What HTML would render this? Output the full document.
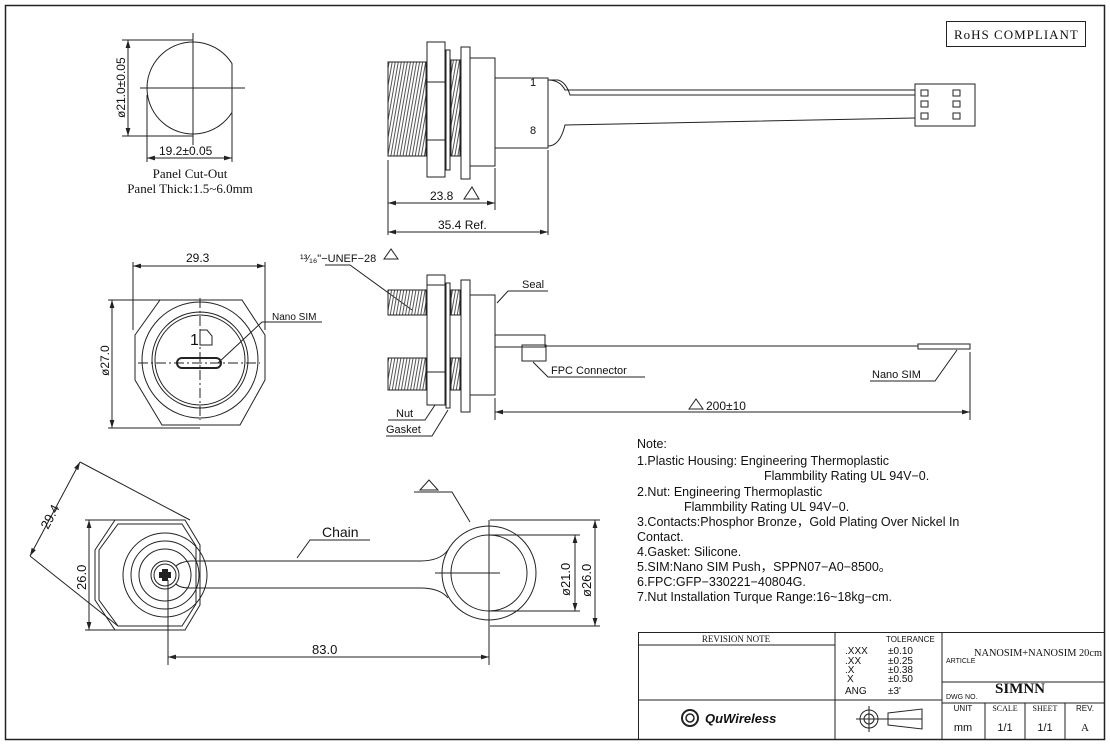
<!DOCTYPE html>
<html><head><meta charset="utf-8"><style>
html,body{margin:0;padding:0;background:#fff}
svg{display:block}
text{font-family:"Liberation Sans",sans-serif;fill:#111}
.s{font-family:"Liberation Serif",serif}
</style></head><body>
<svg width="1110" height="745" viewBox="0 0 1110 745" xmlns="http://www.w3.org/2000/svg" stroke="#222" fill="none" stroke-width="1">
<defs>
<marker id="a" viewBox="0 0 10 6" refX="10" refY="3" markerWidth="8" markerHeight="5" orient="auto-start-reverse"><path d="M0,0L10,3L0,6z" fill="#222" stroke="none"/></marker>
<pattern id="th" width="3" height="6" patternUnits="userSpaceOnUse" patternTransform="rotate(10)"><line x1="1" y1="0" x2="1" y2="6" stroke="#555" stroke-width="1"/></pattern>
</defs>
<rect x="5.5" y="5.5" width="1099" height="734" stroke-width="1.5"/>
<!-- RoHS -->
<rect x="946.5" y="21.5" width="139" height="25"/>
<text x="954" y="39" class="s" font-size="13" stroke="none" letter-spacing="1">RoHS COMPLIANT</text>

<!-- Panel cut-out -->
<path d="M232,63.6 A46,46 0 1,0 232,112.4 Z"/>
<line x1="140" y1="88" x2="245" y2="88"/><line x1="193" y1="33" x2="193" y2="145"/>
<line x1="128" y1="40" x2="128" y2="136" marker-start="url(#a)" marker-end="url(#a)"/>
<line x1="122" y1="40" x2="193" y2="40"/><line x1="122" y1="136" x2="193" y2="136"/>
<text transform="translate(125,118) rotate(-90)" font-size="12" stroke="none">ø21.0±0.05</text>
<line x1="147" y1="95" x2="147" y2="162"/><line x1="232" y1="113" x2="232" y2="162"/>
<line x1="147" y1="158" x2="232" y2="158" marker-start="url(#a)" marker-end="url(#a)"/>
<text x="159" y="155" font-size="12" stroke="none">19.2±0.05</text>
<text x="190" y="178" class="s" font-size="13" text-anchor="middle" stroke="none">Panel Cut-Out</text>
<text x="190" y="193" class="s" font-size="13" text-anchor="middle" stroke="none">Panel Thick:1.5~6.0mm</text>

<!-- Top side view -->
<rect x="388" y="62" width="38" height="94" fill="url(#th)"/>
<rect x="427" y="42" width="18" height="135"/>
<line x1="427" y1="82" x2="445" y2="82"/><line x1="427" y1="140" x2="445" y2="140"/>
<rect x="446" y="50" width="4" height="120"/>
<rect x="451" y="60" width="9" height="96" fill="url(#th)"/>
<rect x="461" y="47" width="9" height="132"/>
<rect x="470" y="58" width="25" height="108"/>
<rect x="495" y="78" width="53" height="70"/>
<text x="530" y="86" font-size="11" stroke="none">1</text>
<text x="530" y="134" font-size="11" stroke="none">8</text>
<path d="M548,80 Q560,80 565,90 L915,90 M548,146 Q560,146 565,125 L915,118"/>
<path d="M548,80 L558,80 Q566,82 570,95 L915,95"/>
<rect x="915" y="84" width="60" height="42"/>
<rect x="921" y="90" width="7" height="6"/><rect x="921" y="101" width="7" height="6"/><rect x="921" y="113" width="7" height="6"/>
<rect x="953" y="90" width="7" height="6"/><rect x="953" y="101" width="7" height="6"/><rect x="953" y="113" width="7" height="6"/>
<line x1="388" y1="160" x2="388" y2="235"/><line x1="495" y1="168" x2="495" y2="210"/><line x1="548" y1="150" x2="548" y2="235"/>
<line x1="388" y1="203" x2="495" y2="203" marker-start="url(#a)" marker-end="url(#a)"/>
<text x="430" y="200" font-size="12" stroke="none">23.8</text><path d="M464,199 L472,187 L479,199Z"/>
<line x1="388" y1="232" x2="548" y2="232" marker-start="url(#a)" marker-end="url(#a)"/>
<text x="438" y="229" font-size="12" stroke="none">35.4  Ref.</text>

<!-- Front view -->
<path d="M160,300 L242,300 L265,335 L265,380 L240,425 L162,425 L135,380 L135,335 Z"/>
<circle cx="200" cy="360" r="58"/>
<circle cx="200" cy="360" r="48"/><circle cx="200" cy="360" r="45"/>
<line x1="133" y1="262" x2="133" y2="330"/><line x1="265" y1="262" x2="265" y2="330"/>
<line x1="133" y1="266" x2="265" y2="266" marker-start="url(#a)" marker-end="url(#a)"/>
<text x="186" y="262" font-size="12" stroke="none">29.3</text>
<line x1="112" y1="300" x2="112" y2="428" marker-start="url(#a)" marker-end="url(#a)"/>
<line x1="108" y1="300" x2="165" y2="300"/><line x1="108" y1="428" x2="200" y2="428"/>
<text transform="translate(109,376) rotate(-90)" font-size="12" stroke="none">ø27.0</text>
<line x1="138" y1="363" x2="260" y2="363" stroke-dasharray="10,3,2,3"/>
<line x1="200" y1="298" x2="200" y2="420" stroke-dasharray="10,3,2,3"/>
<rect x="177" y="358" width="44" height="10" rx="5" stroke-width="2"/>
<text x="190" y="345" font-size="16" stroke="none">1</text><path d="M200,330 L207,330 L212,336 L212,345 L200,345Z"/>
<path d="M218,363 L262,322 L322,322"/>
<text x="272" y="320" font-size="10" stroke="none">Nano  SIM</text>

<!-- Middle side view -->
<text x="300" y="262" font-size="11" stroke="none">¹³⁄₁₆"−UNEF−28</text>
<path d="M384,259 L391,249 L398,259Z"/>
<path d="M325,265 L350,265 L412,310"/>
<rect x="388" y="290" width="38" height="25" fill="url(#th)"/>
<rect x="388" y="358" width="38" height="32" fill="url(#th)"/>
<rect x="427" y="275" width="18" height="130"/>
<line x1="427" y1="285" x2="445" y2="285"/><line x1="427" y1="372" x2="445" y2="372"/>
<rect x="446" y="283" width="4" height="125"/>
<rect x="451" y="290" width="9" height="25" fill="url(#th)"/><rect x="451" y="358" width="9" height="32" fill="url(#th)"/>
<rect x="461" y="280" width="9" height="132"/>
<rect x="470" y="295" width="25" height="100"/>
<rect x="495" y="335" width="50" height="12"/>
<rect x="522" y="345" width="24" height="16"/>
<line x1="546" y1="346" x2="918" y2="346"/>
<rect x="918" y="344" width="52" height="5"/>
<path d="M497,303 L508,291 L548,291"/><text x="522" y="288" font-size="11" stroke="none">Seal</text>
<path d="M533,362 L548,377 L645,377"/><text x="551" y="374" font-size="11" stroke="none">FPC  Connector</text>
<path d="M957,350 L935,381 L870,381"/><text x="872" y="378" font-size="11" stroke="none">Nano  SIM</text>
<path d="M435,405 L425,420 L388,420"/><text x="396" y="417" font-size="11" stroke="none">Nut</text>
<path d="M448,410 L432,436 L386,436"/><text x="386" y="433" font-size="11" stroke="none">Gasket</text>
<line x1="495" y1="398" x2="495" y2="420"/><line x1="970" y1="352" x2="970" y2="420"/>
<line x1="495" y1="412" x2="970" y2="412" marker-start="url(#a)" marker-end="url(#a)"/>
<path d="M689,409 L696,399 L703,409Z"/><text x="706" y="410" font-size="12" stroke="none">200±10</text>

<!-- Notes -->
<g font-size="12.5" stroke="none" fill="#111">
<text x="637" y="448" stroke="none">Note:</text>
<text x="637" y="465" stroke="none">1.Plastic Housing: Engineering  Thermoplastic</text>
<text x="764" y="480" stroke="none">Flammbility  Rating  UL  94V−0.</text>
<text x="637" y="496" stroke="none">2.Nut: Engineering  Thermoplastic</text>
<text x="684" y="511" stroke="none">Flammbility  Rating  UL  94V−0.</text>
<text x="637" y="526" stroke="none">3.Contacts:Phosphor  Bronze，Gold  Plating  Over  Nickel  In</text>
<text x="637" y="541" stroke="none">Contact.</text>
<text x="637" y="556" stroke="none">4.Gasket:  Silicone.</text>
<text x="637" y="571" stroke="none">5.SIM:Nano  SIM  Push，SPPN07−A0−8500。</text>
<text x="637" y="586" stroke="none">6.FPC:GFP−330221−40804G.</text>
<text x="637" y="601" stroke="none">7.Nut  Installation  Turque  Range:16~18kg−cm.</text>
</g>

<!-- Bottom view -->
<path d="M115,520 L185,520 L200,545 L200,605 L185,630 L115,630 L95,600 L95,550 Z"/>
<path d="M118,524 L182,524 L196,546 L196,604 L182,626 L118,626 L99,600 L99,550 Z"/>
<circle cx="165" cy="575" r="42"/><circle cx="165" cy="575" r="34"/><circle cx="165" cy="575" r="26"/>
<circle cx="165" cy="575" r="14"/><circle cx="165" cy="575" r="11"/>
<path d="M162,569h6v3h3v6h-3v3h-6v-3h-3v-6h3z" fill="#222" stroke="none"/>
<path d="M176,566 Q180,562 190,561 L420,561 Q440,561 448,550 M176,584 Q180,588 190,588 L420,588 Q440,588 448,598"/>
<circle cx="489" cy="573" r="47"/><circle cx="489" cy="573" r="38"/>
<line x1="435" y1="573" x2="500" y2="573"/>
<line x1="489" y1="520" x2="489" y2="665"/>
<line x1="490" y1="520" x2="600" y2="520"/><line x1="490" y1="626" x2="600" y2="626"/>
<line x1="489" y1="535" x2="580" y2="535"/><line x1="489" y1="611" x2="580" y2="611"/>
<line x1="595" y1="520" x2="595" y2="626" marker-start="url(#a)" marker-end="url(#a)"/>
<line x1="575" y1="535" x2="575" y2="611" marker-start="url(#a)" marker-end="url(#a)"/>
<text transform="translate(570,596) rotate(-90)" font-size="13" stroke="none">ø21.0</text>
<text transform="translate(591,597) rotate(-90)" font-size="13" stroke="none">ø26.0</text>
<path d="M420,490 L429,480 L438,490Z"/><path d="M414,492 L452,492 L470,522"/>
<path d="M297,558 L310,540 L370,540"/><text x="322" y="537" font-size="14" stroke="none">Chain</text>
<line x1="85" y1="520" x2="115" y2="520"/><line x1="85" y1="630" x2="115" y2="630"/>
<line x1="89" y1="520" x2="89" y2="630" marker-start="url(#a)" marker-end="url(#a)"/>
<text transform="translate(86,590) rotate(-90)" font-size="13" stroke="none">26.0</text>
<line x1="30" y1="556" x2="80" y2="462" marker-start="url(#a)" marker-end="url(#a)"/>
<line x1="80" y1="462" x2="190" y2="520"/><line x1="30" y1="556" x2="118" y2="626"/>
<text transform="translate(48,530) rotate(-62)" font-size="13" stroke="none">29.4</text>
<line x1="168" y1="580" x2="168" y2="665"/>
<line x1="168" y1="657" x2="489" y2="657" marker-start="url(#a)" marker-end="url(#a)"/>
<text x="312" y="654" font-size="13" stroke="none">83.0</text>

<!-- Title block -->
<g stroke-width="1">
<rect x="638.5" y="632.5" width="466" height="107"/>
<line x1="638" y1="645" x2="835" y2="645"/>
<line x1="638" y1="700" x2="942" y2="700"/>
<line x1="835" y1="632" x2="835" y2="740"/>
<line x1="942" y1="632" x2="942" y2="740"/>
<line x1="942" y1="682" x2="1105" y2="682"/>
<line x1="942" y1="703" x2="1105" y2="703"/>
<line x1="985" y1="703" x2="985" y2="740"/><line x1="1025" y1="703" x2="1025" y2="740"/><line x1="1065" y1="703" x2="1065" y2="740"/>
</g>
<g stroke="none">
<text x="736" y="642" class="s" font-size="9" text-anchor="middle" stroke="none">REVISION NOTE</text>
<text x="886" y="642" font-size="8" stroke="none">TOLERANCE</text>
<text x="845" y="654" font-size="10" stroke="none">.XXX</text><text x="888" y="654" font-size="10" stroke="none">±0.10</text>
<text x="845" y="664" font-size="10" stroke="none">.XX</text><text x="888" y="664" font-size="10" stroke="none">±0.25</text>
<text x="845" y="673" font-size="10" stroke="none">.X</text><text x="888" y="673" font-size="10" stroke="none">±0.38</text>
<text x="847" y="682" font-size="10" stroke="none">X</text><text x="888" y="682" font-size="10" stroke="none">±0.50</text>
<text x="845" y="694" font-size="10" stroke="none">ANG</text><text x="888" y="694" font-size="10" stroke="none">±3'</text>
<text x="946" y="663" font-size="7" stroke="none">ARTICLE</text>
<text x="974" y="656" class="s" font-size="11" stroke="none" textLength="128" lengthAdjust="spacingAndGlyphs">NANOSIM+NANOSIM 20cm</text>
<text x="946" y="699" font-size="7" stroke="none">DWG NO.</text>
<text x="995" y="693" class="s" font-size="15" font-weight="bold" stroke="none">SIMNN</text>
<text x="963" y="711" font-size="8" text-anchor="middle" stroke="none">UNIT</text>
<text x="963" y="731" font-size="11" text-anchor="middle" stroke="none">mm</text>
<text x="1005" y="711" class="s" font-size="8" text-anchor="middle" stroke="none">SCALE</text>
<text x="1005" y="731" font-size="11" text-anchor="middle" stroke="none">1/1</text>
<text x="1045" y="711" class="s" font-size="8" text-anchor="middle" stroke="none">SHEET</text>
<text x="1045" y="731" font-size="11" text-anchor="middle" stroke="none">1/1</text>
<text x="1085" y="711" font-size="8" text-anchor="middle" stroke="none">REV.</text>
<text x="1085" y="731" class="s" font-size="11" text-anchor="middle" stroke="none">A</text>
<text x="705" y="723" font-size="13" font-weight="bold" font-style="italic" stroke="none">QuWireless</text>
</g>
<circle cx="690" cy="718" r="8" stroke-width="2"/><circle cx="690" cy="718" r="4" stroke-width="1.5"/>
<circle cx="869" cy="719" r="9"/><circle cx="869" cy="719" r="5"/>
<line x1="856" y1="719" x2="922" y2="719"/><line x1="869" y1="706" x2="869" y2="732"/>
<path d="M888,713 L922,709 L922,729 L888,725 Z"/>
</svg>
</body></html>
